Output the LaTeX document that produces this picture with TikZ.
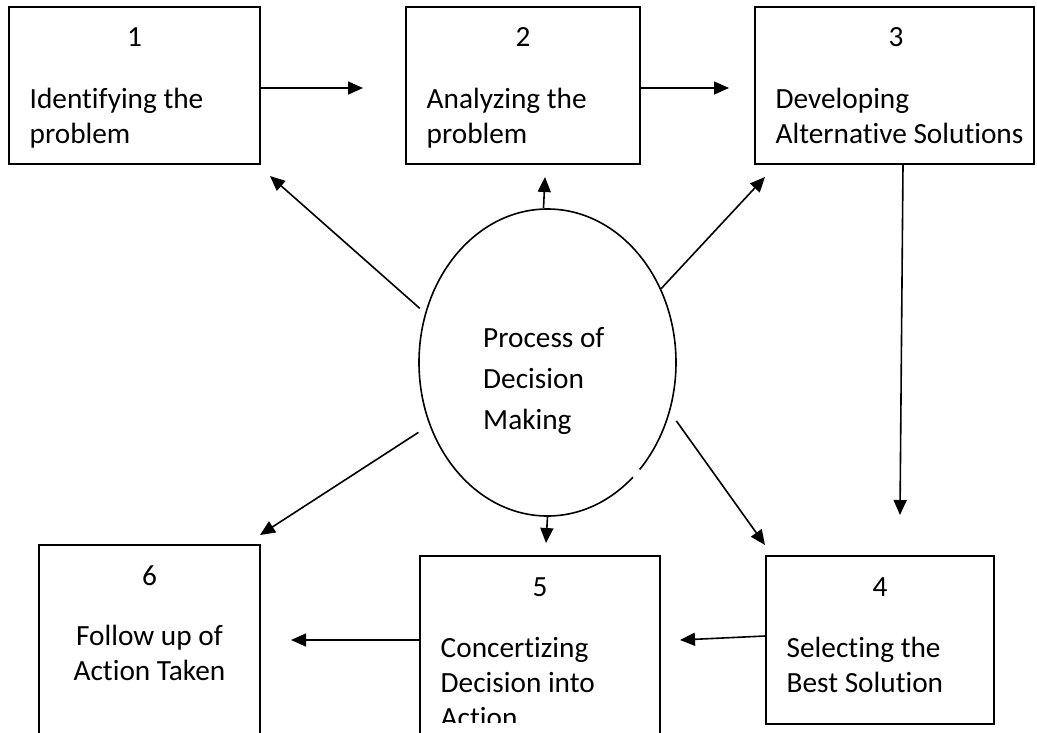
\documentclass[tikz,border=0pt]{standalone}
\usepackage{fontspec}
\setmainfont{Carlito}[Ligatures=NoCommon]
\usetikzlibrary{arrows.meta,shapes.geometric}
\begin{document}
\begin{tikzpicture}[x=1pt,y=-1pt,
  box/.style={draw, line width=1.8pt, rectangle, inner sep=0pt},
  numtxt/.style={anchor=base, inner sep=0pt, font=\fontsize{29.3}{35}\selectfont},
  bodytxt/.style={anchor=base west, align=left, inner sep=0pt, font=\fontsize{29.3}{35}\selectfont},
  ctrtxt/.style={anchor=base, align=center, inner sep=0pt, font=\fontsize{29.3}{35}\selectfont},
  elltxt/.style={anchor=base west, align=left, inner sep=0pt, font=\fontsize{29.3}{41}\selectfont},
  arr/.style={line width=1.6pt, -{Triangle[length=15pt,width=13pt]}},
]
\useasboundingbox (0,0) rectangle (1037,732);
\fill[white] (0,0) rectangle (1037,732);
\clip (0,0) rectangle (1037,732);

% boxes
\node[box, minimum width=251pt, minimum height=157pt] (b1) at (134.5,85.5) {};
\node[box, minimum width=234pt, minimum height=157pt] (b2) at (523,85.5) {};
\node[box, minimum width=279pt, minimum height=157pt] (b3) at (894.5,85.5) {};
\node[box, minimum width=228pt, minimum height=168pt] (b4) at (880,640) {};
\node[box, minimum width=240pt, minimum height=204pt] (b5) at (540,658) {};
\node[box, minimum width=221pt, minimum height=215pt] (b6) at (149.5,652.5) {};

% ellipse
\node[draw, ellipse, line width=1.6pt, inner sep=0pt, minimum width=257pt, minimum height=307pt] (proc) at (547.5,362.5) {};
\draw[white, line width=3pt] (633.5,477.5) -- (639.5,469.5);

% texts (base anchor = last line's baseline)
\node[numtxt] (n1) at (134.5,46) {1};
\node[bodytxt] (t1) at (29.5,143) {Identifying the\\problem};
\node[numtxt] (n2) at (523,46) {2};
\node[bodytxt] (t2) at (426.5,143) {Analyzing the\\problem};
\node[numtxt] (n3) at (896,46) {3};
\node[bodytxt] (t3) at (775.5,143) {Developing\\Alternative Solutions};
\node[numtxt] (n4) at (880,596) {4};
\node[bodytxt] (t4) at (786.5,692) {Selecting the\\Best Solution};
\node[numtxt] (n5) at (540,596) {5};
\begin{scope}
  \clip (0,0) rectangle (1037,722);
  \node[bodytxt] (t5) at (440.5,727) {Concertizing\\Decision into\\Action};
\end{scope}
\node[numtxt] (n6) at (149.5,585) {6};
\node[ctrtxt] (t6) at (149.5,680) {Follow up of\\Action Taken};
\node[elltxt] (tp) at (483,429) {Process of\\Decision\\Making};

% arrow end points
\coordinate (e12) at (363,88);
\coordinate (e23) at (729,88);
\coordinate (e34) at (900,515);
\coordinate (e45) at (680,640);
\coordinate (e56) at (291,640);
\coordinate (ep1) at (270,176);
\coordinate (ep2) at (545,177);
\coordinate (ep3) at (765,177);
\coordinate (ep4) at (765,545);
\coordinate (ep5) at (546,543);
\coordinate (ep6) at (260,535);

% connectors
\draw[arr] (b1.east |- e12) -- (e12);
\draw[arr] (b2.east |- e23) -- (e23);
\draw[arr] ([xshift=8.5pt]b3.south) -- (e34);
\draw[arr] ([yshift=4pt]b4.west) -- (e45);
\draw[arr] (b5.west |- e56) -- (e56);
\draw[arr, shorten <=7pt] (proc.158.6) -- (ep1);
\draw[arr] ([xshift=-4pt]proc.north) -- (ep2);
\draw[arr] (proc.33.9) -- (ep3);
\draw[arr, shorten <=11pt] (proc.338.8) -- (ep4);
\draw[arr] (proc.south) -- (ep5);
\draw[arr, shorten <=13pt] (proc.208) -- (ep6);
\end{tikzpicture}
\end{document}
